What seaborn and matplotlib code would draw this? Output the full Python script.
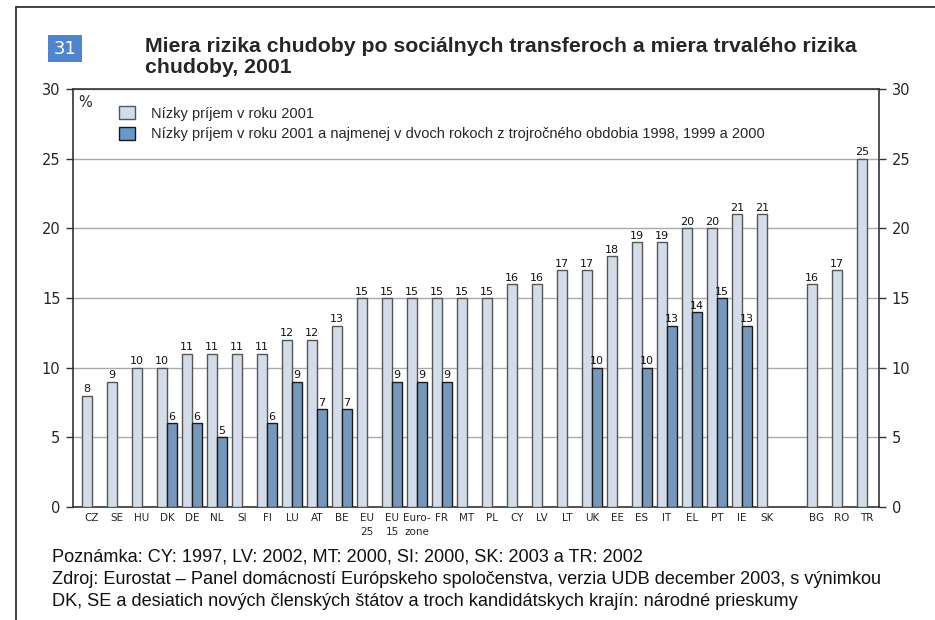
import numpy as np
import pandas as pd
import matplotlib
matplotlib.use("Agg")
import matplotlib.pyplot as plt
from matplotlib.patches import Patch, Rectangle
from matplotlib.lines import Line2D
import seaborn as sns

# Country codes in display order; "" is an empty spacer slot before the candidate countries
countries = ["CZ", "SE", "HU", "DK", "DE", "NL", "SI", "FI", "LU", "AT", "BE",
             "EU\n25", "EU\n15", "Euro-\nzone", "FR", "MT", "PL", "CY", "LV", "LT",
             "UK", "EE", "ES", "IT", "EL", "PT", "IE", "SK", "", "BG", "RO", "TR"]

# At-risk-of-poverty rate after social transfers, 2001 (%)
low_income_2001 = [8, 9, 10, 10, 11, 11, 11, 11, 12, 12, 13,
                   15, 15, 15, 15, 15, 15, 16, 16, 17,
                   17, 18, 19, 19, 20, 20, 21, 21, None, 16, 17, 25]

# Persistent at-risk-of-poverty rate (%)
persistent = [None, None, None, 6, 6, 5, None, 6, 9, 7, 7,
              None, 9, 9, 9, None, None, None, None, None,
              10, None, 10, 13, 14, 15, 13, None, None, None, None, None]

series_names = ["Nízky príjem v roku 2001",
                "Nízky príjem v roku 2001 a najmenej v dvoch rokoch z trojročného obdobia 1998, 1999 a 2000"]
colors = ["#cfdcee", "#6a98c9"]
edges = ["#555555", "#1a1a1a"]

rows = []
for c, a, b in zip(countries, low_income_2001, persistent):
    rows.append((c, series_names[0], np.nan if a is None else a))
    rows.append((c, series_names[1], np.nan if b is None else b))
df = pd.DataFrame(rows, columns=["country", "series", "value"])

sns.set_style("white")
plt.rcParams["font.family"] = ["DejaVu Sans"]

fig = plt.figure(figsize=(9.35, 6.2), dpi=100)
ax = fig.add_axes([73 / 935, 1 - 507 / 620, (879 - 73) / 935, (507 - 89) / 620])

sns.barplot(data=df, x="country", y="value", hue="series", order=countries,
            hue_order=series_names, palette=colors, width=0.8, dodge=True,
            errorbar=None, legend=False, ax=ax, zorder=3)

for cont, ec in zip(ax.containers, edges):
    for p in cont:
        p.set_edgecolor(ec)
        p.set_linewidth(1.0)
    ax.bar_label(cont, fmt="%g", padding=1, fontsize=8, color="#111111")

ax.set_xlim(-0.76, 31.48)
ax.set_ylim(0, 30)
ax.set_yticks(range(0, 31, 5))
ax.yaxis.grid(True, color="#aaaaaa", linewidth=1.0, zorder=0)
ax.set_axisbelow(True)
ax.set_xlabel("")
ax.set_ylabel("")

ax.set_xticks(range(len(countries)))
ax.set_xticklabels(countries, fontsize=7.5, linespacing=1.5)
ax.set_xticks(np.arange(0.35, len(countries) - 1, 1.0), minor=True)
ax.tick_params(axis="x", which="major", length=0, pad=4)
ax.tick_params(axis="x", which="minor", length=4, width=1, color="#333333", direction="out")
ax.tick_params(axis="y", which="major", length=5, width=1, color="#333333", direction="out",
               labelsize=10.5, left=True, right=True, labelleft=True, labelright=True, pad=4)
for s in ax.spines.values():
    s.set_color("#333333")
    s.set_linewidth(1.2)

ax.text(0.006, 0.985, "%", transform=ax.transAxes, fontsize=10.5, va="top", ha="left")

handles = [Patch(facecolor=colors[i], edgecolor=edges[i], linewidth=1.0, label=series_names[i])
           for i in range(2)]
leg = ax.legend(handles=handles, loc="upper left", bbox_to_anchor=(0.041, 0.99), frameon=False,
                prop={"family": "Liberation Sans", "size": 10.5},
                handlelength=1.1, handleheight=1.0, handletextpad=1.1, labelspacing=0.42)

# Figure number box and title
fig.add_artist(Rectangle((48 / 935, 1 - 62 / 620), 34 / 935, 27 / 620,
                         transform=fig.transFigure, facecolor="#4f84cf", edgecolor="none"))
fig.text(65 / 935, 1 - 48.5 / 620, "31", color="white", fontsize=13, ha="center", va="center")
fig.text(145 / 935, 1 - 57 / 620,
         "Miera rizika chudoby po sociálnych transferoch a miera trvalého rizika\nchudoby, 2001",
         fontsize=15.3, fontweight="bold", family="Liberation Sans", ha="left", va="center",
         linespacing=1.12)

# Notes and source
notes = ["Poznámka: CY: 1997, LV: 2002, MT: 2000, SI: 2000, SK: 2003 a TR: 2002",
         "Zdroj: Eurostat – Panel domácností Európskeho spoločenstva, verzia UDB december 2003, s výnimkou",
         "DK, SE a desiatich nových členských štátov a troch kandidátskych krajín: národné prieskumy"]
for i, t in enumerate(notes):
    fig.text(52 / 935, 1 - (557 + 22 * i) / 620, t, fontsize=13.1, family="Liberation Sans",
             ha="left", va="center", color="#111111")

# Page frame (top and left edges)
fig.add_artist(Line2D([16 / 935, 16 / 935], [1 - 7 / 620, 0], transform=fig.transFigure,
                      color="#333333", linewidth=1.3))
fig.add_artist(Line2D([16 / 935, 1], [1 - 7 / 620, 1 - 7 / 620], transform=fig.transFigure,
                      color="#333333", linewidth=1.3))

fig.savefig("out.png", dpi=100)
